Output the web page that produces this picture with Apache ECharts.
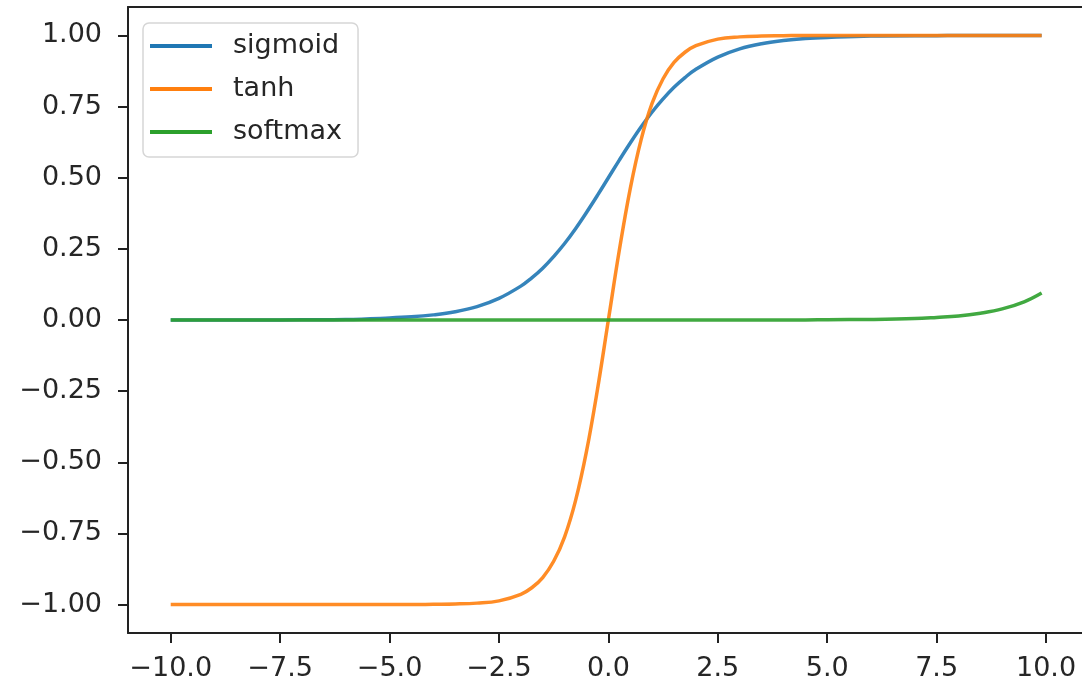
<!DOCTYPE html>
<html>
<head>
    <meta charset="utf-8">
    <title>sigmoid / tanh / softmax</title>
    <script src="https://cdn.jsdelivr.net/npm/echarts@6/dist/echarts.min.js"></script>
    <style>
        html, body { margin: 0; padding: 0; background: #fff; }
        #main { width: 1082px; height: 684px; }
    </style>
</head>
<body>
    <div id="main"></div>
    <script>
        var xs = [-10, -9, -8, -7, -6, -5, -4.5, -4, -3.5, -3, -2.5, -2, -1.75, -1.5, -1.25, -1, -0.75, -0.5, -0.25, 0,
                  0.25, 0.5, 0.75, 1, 1.25, 1.5, 1.75, 2, 2.5, 3, 3.5, 4, 4.5, 5, 6, 7, 7.5, 8, 8.5, 9, 9.5, 9.9];
        var sigmoidVals = [0, 0, 0, 0.001, 0.002, 0.007, 0.011, 0.018, 0.029, 0.047, 0.076, 0.119, 0.148, 0.182, 0.223, 0.269, 0.321, 0.378, 0.438, 0.5,
                  0.562, 0.622, 0.679, 0.731, 0.777, 0.818, 0.852, 0.881, 0.924, 0.953, 0.971, 0.982, 0.989, 0.993, 0.998, 0.999, 0.999, 1, 1, 1, 1, 1];
        var tanhVals = [-1, -1, -1, -1, -1, -1, -1, -0.999, -0.998, -0.995, -0.987, -0.964, -0.941, -0.905, -0.848, -0.762, -0.635, -0.462, -0.245, 0,
                  0.245, 0.462, 0.635, 0.762, 0.848, 0.905, 0.941, 0.964, 0.987, 0.995, 0.998, 0.999, 1, 1, 1, 1, 1, 1, 1, 1, 1, 1];
        var softmaxVals = [0, 0, 0, 0, 0, 0, 0, 0, 0, 0, 0, 0, 0, 0, 0, 0, 0, 0, 0, 0,
                  0, 0, 0, 0, 0, 0, 0, 0, 0, 0, 0, 0, 0, 0.001, 0.002, 0.005, 0.009, 0.014, 0.024, 0.039, 0.064, 0.095];

        // tick labels
        var xTicks = [-10, -7.5, -5, -2.5, 0, 2.5, 5, 7.5, 10];
        var yTicks = [-1, -0.75, -0.5, -0.25, 0, 0.25, 0.5, 0.75, 1];

        var names = ['sigmoid', 'tanh', 'softmax'];
        var colors = ['#1f77b4', '#ff7f0e', '#2ca02c'];
        var allVals = [sigmoidVals, tanhVals, softmaxVals];

        function pairs(vals) {
            var out = [];
            for (var i = 0; i < xs.length; i++) {
                out.push([xs[i], vals[i]]);
            }
            return out;
        }

        // matplotlib uses a real minus sign
        function fmt(v, d) {
            return v.toFixed(d).replace('-', '\u2212');
        }

        var txt = '#262626';
        var font = 'DejaVu Sans';
        var spine = { color: '#222', width: 2 };

        var series = [];
        for (var k = 0; k < names.length; k++) {
            series.push({
                name: names[k],
                type: 'line',
                data: pairs(allVals[k]),
                showSymbol: false,
                symbol: 'none',
                smooth: 0.4,
                lineStyle: { width: 3.5, color: colors[k], opacity: 0.9 },
                itemStyle: { color: colors[k] },
                animation: false
            });
        }

        var myChart = echarts.init(document.getElementById('main'));
        var option = {
            backgroundColor: '#fff',
            animation: false,
            // right spine falls just outside the picture, so the plot runs to the edge
            grid: {
                left: 128,
                top: 7,
                right: 0,
                height: 626,
                show: false
            },
            legend: {
                data: names,
                orient: 'vertical',
                left: 143,
                top: 23,
                icon: 'rect',
                itemWidth: 62,
                itemHeight: 4,
                itemGap: 13,
                padding: [8, 16, 10, 7],
                backgroundColor: 'rgba(255,255,255,0.8)',
                borderColor: '#d6d6d6',
                borderWidth: 1.5,
                borderRadius: 6,
                textStyle: {
                    color: txt,
                    fontFamily: font,
                    fontSize: 27,
                    lineHeight: 30,
                    padding: [0, 0, 0, 16]
                }
            },
            xAxis: [{
                type: 'value',
                min: -10.976,
                max: 10.822,
                splitLine: { show: false },
                axisLine: { onZero: false, lineStyle: spine },
                axisTick: {
                    show: true,
                    length: 10,
                    lineStyle: spine,
                    customValues: xTicks
                },
                axisLabel: {
                    customValues: xTicks,
                    margin: 22,
                    color: txt,
                    fontFamily: font,
                    fontSize: 27,
                    formatter: function (v) { return fmt(v, 1); }
                }
            }, {
                // top spine only
                type: 'value',
                position: 'top',
                min: -10.976,
                max: 10.822,
                splitLine: { show: false },
                axisLine: { show: true, onZero: false, lineStyle: spine },
                axisTick: { show: false },
                axisLabel: { show: false }
            }],
            yAxis: {
                type: 'value',
                min: -1.1,
                max: 1.1,
                splitLine: { show: false },
                axisLine: { show: true, onZero: false, lineStyle: spine },
                axisTick: {
                    show: true,
                    length: 10,
                    lineStyle: spine,
                    customValues: yTicks
                },
                axisLabel: {
                    customValues: yTicks,
                    margin: 26,
                    color: txt,
                    fontFamily: font,
                    fontSize: 27,
                    formatter: function (v) { return fmt(v, 2); }
                }
            },
            series: series
        };
        myChart.setOption(option);
    </script>
</body>
</html>
